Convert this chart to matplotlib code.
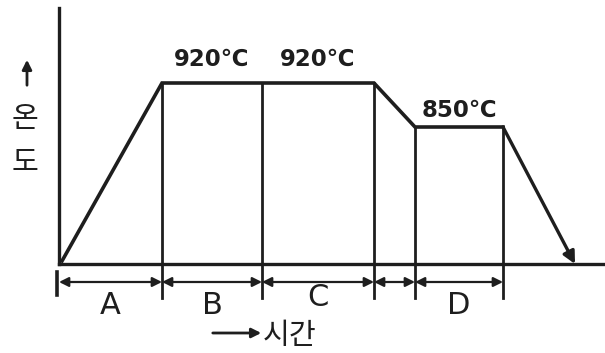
import matplotlib
matplotlib.use("Agg")
import matplotlib.pyplot as plt

# ---- data (schematic units) ----
profile_t = [0.3, 10.3, 31.5, 35.6, 44.4, 51.6]
profile_level = [0.3, 18.1, 18.1, 13.7, 13.7, 0.0]
stage_edges = [0.0, 10.3, 20.3, 31.5, 35.6, 44.4]
edge_levels = [0.0, 18.1, 18.1, 18.1, 13.7, 13.7]
stage_labels = ["A", "B", "C", "", "D"]
temp_labels = ["920℃", "920℃", "850℃"]
temp_stage_idx = [1, 2, 4]
temp_levels = [18.1, 18.1, 13.7]

INK = "#1e1e1e"
plt.rcParams['font.family'] = ['DejaVu Sans']
KR = ["Noto Sans CJK KR", "DejaVu Sans"]

fig = plt.figure(figsize=(6.05, 3.53), dpi=100)
ax = fig.add_axes([59/605, (353-264)/353, (605-59)/605, (264-8)/353])
ax.set_xlim(0, 54.6)
ax.set_ylim(0, 25.6)
ax.set_xticks([])
ax.set_yticks([])
for s in ["top", "right"]:
    ax.spines[s].set_visible(False)
for s in ["left", "bottom"]:
    ax.spines[s].set_linewidth(2.4)
    ax.spines[s].set_color(INK)

# profile (last segment ends with arrow)
ax.plot(profile_t[:-1], profile_level[:-1], color=INK, lw=2.6,
        solid_joinstyle="miter", clip_on=False)
ax.annotate("", xy=(profile_t[-1], profile_level[-1]),
            xytext=(profile_t[-2], profile_level[-2]),
            arrowprops=dict(arrowstyle="-|>", color=INK, lw=2.4,
                            mutation_scale=18, shrinkA=0, shrinkB=0),
            annotation_clip=False)

# vertical stage boundaries
dim_level = -1.8
for t, lv in zip(stage_edges[1:], edge_levels[1:]):
    ax.plot([t, t], [lv, -3.4], color=INK, lw=2.0, clip_on=False)
ax.plot([stage_edges[0] - 0.2, stage_edges[0] - 0.2], [-0.8, -3.1],
        color=INK, lw=2.6, clip_on=False)

# dimension arrows
bounds = stage_edges + [profile_t[-2]]
for i in range(len(stage_labels)):
    a, b = bounds[i], bounds[i + 1]
    ax.annotate("", xy=(b, dim_level), xytext=(a, dim_level),
                arrowprops=dict(arrowstyle="<|-|>", color=INK, lw=1.6,
                                mutation_scale=14, shrinkA=0, shrinkB=0),
                annotation_clip=False)
    if stage_labels[i]:
        yl = -3.4 if stage_labels[i] == "C" else -4.1
        ax.text((a + b) / 2, yl, stage_labels[i], ha="center", va="center",
                fontsize=22, color=INK)

# temperature labels
for lab, idx, lv in zip(temp_labels, temp_stage_idx, temp_levels):
    a, b = bounds[idx], bounds[idx + 1]
    off = 2.4 if lv > 15 else 1.7
    ax.text((a + b) / 2, lv + off, lab, ha="center", va="center",
            fontsize=16.5, fontweight="bold", color=INK)

# axis labels
fig.text(290/605, 1 - 336/353, "시간", ha="center", va="center",
         fontsize=21, color=INK, family=KR)
fig.patches.append(matplotlib.patches.FancyArrowPatch(
    (210/605, 1 - 333/353), (264/605, 1 - 333/353), transform=fig.transFigure,
    arrowstyle="-|>", mutation_scale=14, lw=2.0, color=INK))
fig.text(25/605, 1 - 119/353, "온", ha="center", va="center",
         fontsize=21, color=INK, family=KR)
fig.text(25/605, 1 - 163/353, "도", ha="center", va="center",
         fontsize=21, color=INK, family=KR)
fig.patches.append(matplotlib.patches.FancyArrowPatch(
    (27/605, 1 - 88/353), (27/605, 1 - 57/353), transform=fig.transFigure,
    arrowstyle="-|>", mutation_scale=14, lw=2.0, color=INK))

fig.savefig("out.png", dpi=100)
